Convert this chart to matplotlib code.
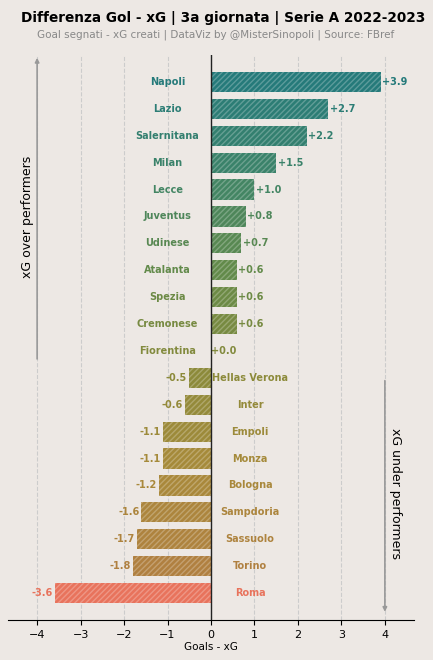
import matplotlib
matplotlib.use("Agg")
import matplotlib.pyplot as plt
import numpy as np
from matplotlib.colors import LinearSegmentedColormap, to_rgb

teams = ["Napoli","Lazio","Salernitana","Milan","Lecce","Juventus","Udinese","Atalanta","Spezia","Cremonese",
         "Fiorentina","Hellas Verona","Inter","Empoli","Monza","Bologna","Sampdoria","Sassuolo","Torino","Roma"]
values = [3.9,2.7,2.2,1.5,1.0,0.8,0.7,0.6,0.6,0.6,0.0,-0.5,-0.6,-1.1,-1.1,-1.2,-1.6,-1.7,-1.8,-3.6]

bg = "#ede8e4"
cmap = LinearSegmentedColormap.from_list("c", ["#257a7a", "#3f8466", "#648a48", "#8a8a3a", "#a88a3a", "#b08040"])
n = len(teams)
colors = [cmap(i/(n-2)) for i in range(n-1)] + [to_rgb("#e8735c")]

fig = plt.figure(figsize=(4.33, 6.6), dpi=100, facecolor=bg)
ax = fig.add_axes([8/433, 40/660, 406/433, 565/660], facecolor=bg)
y = np.arange(n)
for yi, v, c in zip(y, values, colors):
    light = tuple(min(1, ch*0.75+0.25) for ch in c[:3])
    ax.barh(yi, v, height=0.75, color=c[:3], edgecolor=light, hatch="//////", linewidth=0, zorder=3)
    if v > 0:
        ax.text(v+0.03, yi, f"+{v:.1f}", va="center", ha="left", fontsize=7, fontweight="bold", color=c[:3], zorder=4)
        ax.text(-1.0, yi, teams[yi], va="center", ha="center", fontsize=7, fontweight="bold", color=c[:3])
    elif v == 0:
        ax.text(0.0, yi, "+0.0", va="center", ha="left", fontsize=7, fontweight="bold", color=c[:3])
        ax.text(-1.0, yi, teams[yi], va="center", ha="center", fontsize=7, fontweight="bold", color=c[:3])
    else:
        ax.text(v-0.05, yi, f"{v:.1f}", va="center", ha="right", fontsize=7, fontweight="bold", color=c[:3], zorder=4)
        ax.text(0.9, yi, teams[yi], va="center", ha="center", fontsize=7, fontweight="bold", color=c[:3])

ax.set_ylim(20, -1)
ax.set_xlim(-4.67, 4.67)
ax.set_yticks([])
ax.set_xticks(range(-4, 5))
ax.tick_params(axis="x", labelsize=8)
ax.grid(axis="x", ls="--", color="#cccccc", lw=0.8, zorder=0)
ax.axvline(0, color="#222222", lw=1, zorder=5)
for s in ["top", "right", "left"]:
    ax.spines[s].set_visible(False)
ax.set_xlabel("Goals - xG", fontsize=7.5, labelpad=2)

ax.annotate("", xy=(-4, -1.0), xytext=(-4, 10.4),
            arrowprops=dict(arrowstyle="-|>", color="#999999", lw=1.2, mutation_scale=6))
ax.text(-4.22, 5, "xG over performers", rotation=90, va="center", ha="center", fontsize=9)
ax.annotate("", xy=(4, 19.8), xytext=(4, 11.0),
            arrowprops=dict(arrowstyle="-|>", color="#999999", lw=1.2, mutation_scale=6))
ax.text(4.25, 15.3, "xG under performers", rotation=-90, va="center", ha="center", fontsize=9)

fig.text(0.515, 0.972, "Differenza Gol - xG | 3a giornata | Serie A 2022-2023", ha="center", va="center",
         fontsize=9.8, fontweight="bold")
fig.text(0.497, 0.947, "Goal segnati - xG creati | DataViz by @MisterSinopoli | Source: FBref", ha="center",
         va="center", fontsize=7.5, color="#888888")
fig.savefig("out.png", dpi=100, facecolor=bg)
